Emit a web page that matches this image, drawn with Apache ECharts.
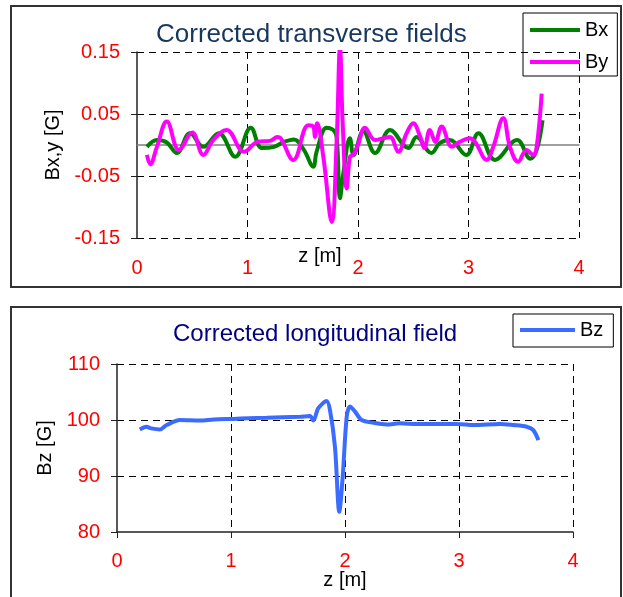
<!DOCTYPE html>
<html>
<head>
<meta charset="utf-8">
<script src="https://cdn.jsdelivr.net/npm/echarts@6/dist/echarts.min.js"></script>
<style>
  html, body { margin: 0; padding: 0; background: #fff; }
  #chart { width: 623px; height: 597px; }
</style>
</head>
<body>
<div id="chart"></div>
<script>
// (z in metres, fields in gauss).
const bxZ = [0.09, 0.18, 0.27, 0.36, 0.48, 0.60, 0.74, 0.89, 1.03, 1.13, 1.24, 1.33, 1.42, 1.51,
  1.595, 1.625, 1.717, 1.777, 1.807, 1.837, 1.867, 1.927, 1.96, 2.048, 2.154, 2.29, 2.456, 2.53,
  2.665, 2.74, 2.83, 2.98, 3.09, 3.24, 3.44, 3.56, 3.617, 3.67];
const bxVals = [-0.003, 0.008, 0.004, -0.013, 0.019, -0.003, 0.019, -0.019, 0.028, -0.005, -0.003, 0.005, 0.009, -0.008,
  -0.035, -0.011, 0.028, 0.024, 0.013, -0.086, -0.046, 0.011, -0.016, 0.022, -0.013, 0.024, -0.005, 0.013,
  -0.013, 0.003, 0.008, -0.016, 0.019, -0.024, 0.008, -0.022, -0.008, 0.04];

const byZ = [0.09, 0.12, 0.18, 0.27, 0.38, 0.50, 0.60, 0.69, 0.81, 0.97, 1.09, 1.21, 1.27, 1.30, 1.415,
  1.55, 1.595, 1.61, 1.63, 1.686, 1.762, 1.807, 1.837, 1.861, 1.898, 1.927, 1.957, 2.0, 2.063, 2.154,
  2.229, 2.29, 2.365, 2.44, 2.5, 2.56, 2.60, 2.65, 2.70, 2.757, 2.85, 2.92, 3.01, 3.06, 3.165, 3.22,
  3.315, 3.375, 3.45, 3.525, 3.586, 3.617, 3.662];
const byVals = [-0.016, -0.031, -0.003, 0.038, -0.008, 0.020, -0.016, 0.008, 0.024, -0.011, 0.005, 0.007, 0.013, 0.011, -0.024,
  0.032, 0.030, 0.013, 0.035, -0.019, -0.124, 0.008, 0.156, 0.037, -0.070, -0.019, -0.016, 0, 0.028, 0.008,
  0.011, 0.013, -0.011, 0.019, 0.035, 0.015, -0.005, 0.024, 0.005, 0.030, -0.003, 0.005, 0.011, 0.005, -0.024, -0.005,
  0.043, -0.003, -0.027, -0.008, -0.016, -0.003, 0.083];

const bzZ = [0.20, 0.257, 0.30, 0.377, 0.436, 0.553, 0.728, 0.85, 1.02, 1.15, 1.313, 1.45, 1.605, 1.693,
  1.722, 1.766, 1.839, 1.868, 1.912, 1.950, 1.98, 2.015, 2.044, 2.088, 2.146, 2.249, 2.366, 2.48,
  2.63, 2.775, 2.98, 3.13, 3.36, 3.477, 3.594, 3.652, 3.696];
const bzVals = [98.3, 98.8, 98.5, 98.3, 99.1, 100.0, 99.9, 100.1, 100.2, 100.3, 100.4, 100.5, 100.6, 100.7,
  99.9, 102.1, 103.4, 101.8, 95.2, 83.6, 89.9, 100.6, 102.4, 101.5, 100.0, 99.5, 99.2, 99.4,
  99.3, 99.3, 99.3, 99.1, 99.3, 99.1, 98.8, 98.2, 96.4];

const zTicks = [0, 4, 1];          // min, max, interval
const transTicks = [-0.15, 0.15, 0.1];
const longTicks = [80, 110, 10];

const FONT = "'Liberation Sans', Arial, sans-serif";
const pairs = (xs, ys) => xs.map((x, i) => [x, ys[i]]);

const dashed = (extra) => Object.assign({ show: true, lineStyle: { color: "#000", type: [7, 5], width: 1 } }, extra);
const redLabel = (extra) => Object.assign({ color: "#ff0000", fontSize: 20, fontFamily: FONT }, extra);
const axisName = { color: "#000", fontSize: 20, fontFamily: FONT };
const solidAxis = () => ({ show: true, onZero: false, lineStyle: { color: "#222", width: 1.5 } });
const outTick = () => ({ show: true, length: 6, lineStyle: { color: "#222" } });

const chart = echarts.init(document.getElementById("chart"));
chart.setOption({
  animation: false,
  backgroundColor: "#fff",
  graphic: [
    { type: "rect", shape: { x: 11, y: 6, width: 610, height: 281 },
      style: { fill: "none", stroke: "#333", lineWidth: 2 }, z: -1 },
    { type: "rect", shape: { x: 11, y: 307, width: 610, height: 300 },
      style: { fill: "none", stroke: "#333", lineWidth: 2 }, z: -1 },
  ],
  title: [
    { text: "Corrected transverse fields", left: 156, top: 22, padding: 0,
      textStyle: { color: "#17375E", fontSize: 26, fontWeight: "normal", fontFamily: FONT } },
    { text: "Corrected longitudinal field", left: 173, top: 322, padding: 0,
      textStyle: { color: "#000080", fontSize: 24, fontWeight: "normal", fontFamily: FONT } },
  ],
  legend: [
    { data: ["Bx", "By"], orient: "vertical", left: 523, top: 13, padding: [7, 9, 4, 7], itemGap: 12,
      icon: "rect", itemWidth: 50, itemHeight: 4, borderColor: "#000", borderWidth: 1,
      textStyle: { color: "#000", fontSize: 20, fontFamily: FONT } },
    { data: ["Bz"], orient: "vertical", left: 513, top: 314, padding: [6, 10, 7, 7],
      icon: "rect", itemWidth: 55, itemHeight: 4, borderColor: "#000", borderWidth: 1,
      textStyle: { color: "#000", fontSize: 20, fontFamily: FONT } },
  ],
  grid: [
    { left: 137, right: 44, top: 52, height: 186 },
    { left: 117, right: 50, top: 364, height: 168 },
  ],
  xAxis: [
    { gridIndex: 0, type: "value", position: "bottom", min: zTicks[0], max: zTicks[1], interval: zTicks[2],
      name: "z [m]", nameLocation: "middle", nameGap: 8, nameMoveOverlap: false,
      nameTextStyle: Object.assign({ padding: [0, 76, 0, 0] }, axisName),
      axisLine: { show: false, onZero: false }, axisTick: { show: false },
      axisLabel: redLabel({ margin: 20 }), splitLine: dashed({ showMinLine: false }) },
    // zero line of the transverse plot
    { gridIndex: 0, type: "value", position: "top", min: zTicks[0], max: zTicks[1], interval: zTicks[2],
      axisLine: { show: true, onZero: true, lineStyle: { color: "#808080", width: 1.5 } },
      axisTick: { show: false }, axisLabel: { show: false }, splitLine: { show: false } },
    { gridIndex: 1, type: "value", position: "bottom", min: zTicks[0], max: zTicks[1], interval: zTicks[2],
      name: "z [m]", nameLocation: "middle", nameGap: 38, nameMoveOverlap: false, nameTextStyle: axisName,
      axisLine: solidAxis(), axisTick: outTick(),
      axisLabel: redLabel({ margin: 19 }), splitLine: dashed({ showMinLine: false }) },
  ],
  yAxis: [
    { gridIndex: 0, type: "value", min: transTicks[0], max: transTicks[1], interval: transTicks[2],
      name: "Bx,y [G]", nameLocation: "middle", nameGap: 74, nameTextStyle: axisName,
      axisLine: solidAxis(), axisTick: outTick(),
      axisLabel: redLabel({ margin: 17, formatter: (v) => v.toFixed(2) }), splitLine: dashed() },
    { gridIndex: 1, type: "value", min: longTicks[0], max: longTicks[1], interval: longTicks[2],
      name: "Bz [G]", nameLocation: "middle", nameGap: 62, nameTextStyle: axisName,
      axisLine: solidAxis(), axisTick: outTick(),
      axisLabel: redLabel({ margin: 17 }), splitLine: dashed({ showMinLine: false }) },
  ],
  series: [
    { name: "Bx", type: "line", xAxisIndex: 0, yAxisIndex: 0, data: pairs(bxZ, bxVals),
      smooth: 0.4, symbol: "none", color: "#008000", lineStyle: { width: 4 } },
    { name: "By", type: "line", xAxisIndex: 0, yAxisIndex: 0, data: pairs(byZ, byVals),
      smooth: 0.4, symbol: "none", color: "#ff00ff", lineStyle: { width: 4 } },
    { name: "Bz", type: "line", xAxisIndex: 2, yAxisIndex: 1, data: pairs(bzZ, bzVals),
      smooth: 0.3, symbol: "none", color: "#3b6cff", lineStyle: { width: 4 } },
  ],
});
</script>
</body>
</html>
